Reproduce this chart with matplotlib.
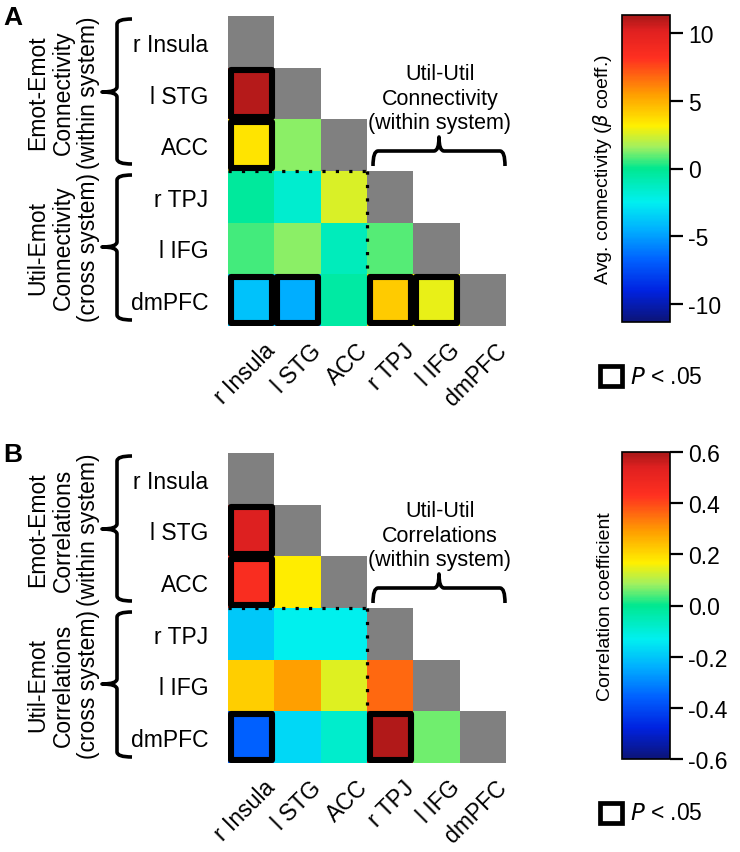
import numpy as np
import matplotlib
matplotlib.use("Agg")
import matplotlib.pyplot as plt
from matplotlib.colors import LinearSegmentedColormap, ListedColormap
from matplotlib.patches import Rectangle, PathPatch
from matplotlib.path import Path
from matplotlib.transforms import ScaledTranslation

plt.rcParams['font.family'] = ['Liberation Sans', 'DejaVu Sans']

# ---------------- data ----------------
regions = ["r Insula", "l STG", "ACC", "r TPJ", "l IFG", "dmPFC"]

# lower-triangle cells (row, col)
cell_rows = [1, 2, 2, 3, 3, 3, 4, 4, 4, 4, 5, 5, 5, 5, 5]
cell_cols = [0, 0, 1, 0, 1, 2, 0, 1, 2, 3, 0, 1, 2, 3, 4]

# panel A: avg connectivity (beta coeff.)
conn_vals = [11.0, 3.5, 1.4, -0.3, -1.6, 2.5, 0.7, 1.4, -1.1, 0.8, -3.9, -4.6, -0.5, 4.2, 2.8]
conn_sig = [(1, 0), (2, 0), (5, 0), (5, 1), (5, 3), (5, 4)]

# panel B: correlation coefficients
corr_vals = [0.54, 0.45, 0.17, -0.20, -0.13, -0.13, 0.22, 0.29, 0.14, 0.36, -0.36, -0.17, -0.08, 0.59, 0.06]
corr_sig = [(1, 0), (2, 0), (5, 0), (5, 3)]

conn_ticks = [-10, -5, 0, 5, 10]
corr_ticks = [-0.6, -0.4, -0.2, 0.0, 0.2, 0.4, 0.6]

# ---------------- style ----------------
W, H = 740, 853
fig = plt.figure(figsize=(W / 100, H / 100), dpi=100)

cmap = LinearSegmentedColormap.from_list("custjet", [
    (0.00, "#0c1478"), (0.10, "#0022e0"), (0.20, "#0060ff"), (0.30, "#00b0ff"),
    (0.39, "#00f0f0"), (0.50, "#00e890"), (0.57, "#a0f060"), (0.64, "#fff000"),
    (0.74, "#ffa000"), (0.86, "#ff3020"), (0.95, "#e02020"), (1.00, "#a81818")])
cmap.set_bad((1, 1, 1, 0))
graycm = ListedColormap(["#808080"])
graycm.set_bad((1, 1, 1, 0))


def fx(px):
    return px / W


def fy(py):
    return 1 - py / H


def add_path(verts, codes, lw=2.6):
    v = [(fx(x), fy(y)) for x, y in verts]
    p = PathPatch(Path(v, codes), transform=fig.transFigure, fill=False,
                  lw=lw, edgecolor="black", capstyle="butt", joinstyle="round")
    fig.patches.append(p)


def vbrace(xl, y0, y1, ym, hook=15, tip=15, r=5):
    M, L, C = Path.MOVETO, Path.LINETO, Path.CURVE3
    verts = [(xl + hook, y0), (xl, y0), (xl, y0 + r),
             (xl, ym - r), (xl, ym), (xl - tip, ym),
             (xl, ym), (xl, ym + r),
             (xl, y1 - r), (xl, y1), (xl + hook, y1)]
    codes = [M, C, C, L, C, C, C, C, L, C, C]
    add_path(verts, codes)


def hbrace(x0, x1, yl, xm, hook=15, tip=14, r=5):
    M, L, C = Path.MOVETO, Path.LINETO, Path.CURVE3
    verts = [(x0, yl + hook), (x0, yl), (x0 + r, yl),
             (xm - r, yl), (xm, yl), (xm, yl - tip),
             (xm, yl), (xm + r, yl),
             (x1 - r, yl), (x1, yl), (x1, yl + hook)]
    codes = [M, C, C, L, C, C, C, C, L, C, C]
    add_path(verts, codes)


def panel(top, vals, sig, vmax, ticks, cblabel, ticklabels, groupword, letter):
    n = len(regions)
    M = np.full((n, n), np.nan)
    for r_, c_, v in zip(cell_rows, cell_cols, vals):
        M[r_, c_] = v
    D = np.full((n, n), np.nan)
    np.fill_diagonal(D, 1.0)

    ax_top = top + 17
    ax_bot = top + 327
    ax = fig.add_axes([fx(228), fy(ax_bot), fx(506) - fx(228), fy(ax_top) - fy(ax_bot)])
    edges = np.arange(n + 1)
    mesh = ax.pcolormesh(edges, edges, np.ma.masked_invalid(M), cmap=cmap,
                         vmin=-vmax, vmax=vmax)
    ax.pcolormesh(edges, edges, np.ma.masked_invalid(D), cmap=graycm, vmin=0, vmax=2)
    ax.set_xlim(0, n)
    ax.set_ylim(n, 0)
    for s in ax.spines.values():
        s.set_visible(False)
    ax.set_xticks(np.arange(n) + 0.5)
    ax.set_yticks(np.arange(n) + 0.5)
    ax.set_yticklabels(regions, fontsize=16.5)
    ax.set_xticklabels(regions, fontsize=16.5, rotation=45, ha="right",
                       rotation_mode="anchor")
    ax.tick_params(axis="both", length=0)
    ax.tick_params(axis="y", pad=14)
    ax.tick_params(axis="x", pad=9)
    off = ScaledTranslation(0.12, 0, fig.dpi_scale_trans)
    for lab in ax.get_xticklabels():
        lab.set_transform(lab.get_transform() + off)

    # dotted separators
    ax.plot([0, 3], [3, 3], ls=(0, (1, 3.2)), color="black", lw=2.3, zorder=3)
    ax.plot([3, 3], [3, 5], ls=(0, (1, 3.2)), color="black", lw=2.3, zorder=3)

    # significance boxes
    for (r_, c_) in sig:
        ax.add_patch(Rectangle((c_ + 0.055, r_ + 0.05), 0.89, 0.9, fill=False,
                               edgecolor="black", lw=4.4, zorder=4,
                               joinstyle="round"))

    # colorbar
    cax = fig.add_axes([fx(622), fy(top + 323), fx(670) - fx(622),
                        fy(top + 16) - fy(top + 323)])
    cb = fig.colorbar(mesh, cax=cax, ticks=ticks)
    cb.set_ticklabels(ticklabels)
    cb.ax.tick_params(labelsize=16.5, length=9, width=1.6, pad=4)
    cb.outline.set_linewidth(1.2)
    cb.ax.yaxis.set_label_position("left")
    cb.set_label(cblabel, fontsize=14, labelpad=6)

    # legend box
    ly = top + 377
    fig.patches.append(Rectangle((fx(600), fy(ly + 10)), fx(622) - fx(600),
                                 fy(ly - 10) - fy(ly + 10), fill=False, lw=3.4,
                                 edgecolor="black", transform=fig.transFigure))
    fig.text(fx(630), fy(ly), r"$\it{P}$ < .05", fontsize=16.5, va="center", ha="left")

    # panel letter
    fig.text(fx(3), fy(top + 18), letter, fontsize=19, fontweight="bold",
             va="center", ha="left")

    # group labels with braces
    fig.text(fx(63), fy(top + 93), "Emot-Emot\n" + groupword + "\n(within system)",
             rotation=90, fontsize=16.5, ha="center", va="center", linespacing=1.15,
             multialignment="center")
    fig.text(fx(63), fy(top + 248), "Util-Emot\n" + groupword + "\n(cross system)",
             rotation=90, fontsize=16.5, ha="center", va="center", linespacing=1.15,
             multialignment="center")
    vbrace(117, top + 20, top + 165, top + 93)
    vbrace(117, top + 176, top + 321, top + 248)

    fig.text(fx(440), fy(top + 99), "Util-Util\n" + groupword + "\n(within system)",
             fontsize=15.5, ha="center", va="center", linespacing=1.22)
    hbrace(373, 505, top + 152, 439)


panel(0, conn_vals, conn_sig, 11.33, conn_ticks,
      r"Avg. connectivity ($\beta$ coeff.)", [str(t) for t in conn_ticks],
      "Connectivity", "A")
panel(437, corr_vals, corr_sig, 0.6, corr_ticks, "Correlation coefficient",
      [f"{t:.1f}" for t in corr_ticks], "Correlations", "B")

fig.savefig("out.png", dpi=100)
